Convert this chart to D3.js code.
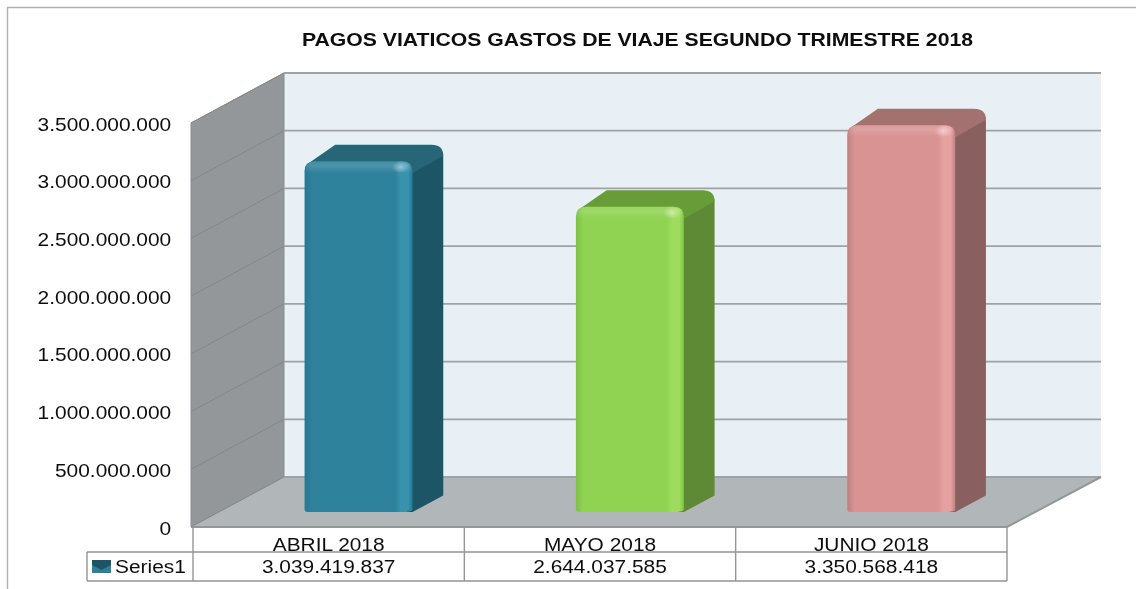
<!DOCTYPE html>
<html>
<head>
<meta charset="utf-8">
<script src="https://cdn.jsdelivr.net/npm/d3@7"></script>
<style>
    html, body { margin: 0; padding: 0; background: #fff; }
    svg { display: block; }
    text { font-family: "Liberation Sans", Arial, sans-serif; fill: #111; }
</style>
</head>
<body>
<div id="chart"></div>
<script>
// 데이터
const titleText = 'PAGOS VIATICOS GASTOS DE VIAJE SEGUNDO TRIMESTRE 2018';
const months = ['ABRIL 2018', 'MAYO 2018', 'JUNIO 2018'];
const pagos = [3039419837, 2644037585, 3350568418];
const yTicks = [0, 500000000, 1000000000, 1500000000, 2000000000, 2500000000, 3000000000, 3500000000];
const seriesName = 'Series1';

// 색상
const frontColors = ['#2f829c', '#90d353', '#d99393'];
const edgeColors = ['#287790', '#7cc146', '#bd8080'];
const glowColors = ['#3792ae', '#9ddc5c', '#e5a0a0'];
const topColors = ['#256676', '#689c38', '#a3716f'];
const sideColors = ['#1d5565', '#5f8a35', '#8a5f5e'];

const W = 1136, H = 589;
const svg = d3.select('#chart').append('svg').attr('width', W).attr('height', H);
const defs = svg.append('defs');

const nf = d3.formatLocale({ decimal: ',', thousands: '.', grouping: [3], currency: ['', ''] }).format(',d');

// 스케일
const x = d3.scaleBand().domain(months).range([193, 1007]);
const y = d3.scaleLinear().domain([0, 3500000000]).range([527, 123]);
const depthX = d3.scaleLinear().domain([0, 1]).range([0, 93]);
const depthY = d3.scaleLinear().domain([0, 1]).range([0, -50]);

const wallLeft = 191, wallBack = wallLeft + depthX(1), backRight = 1101;
const barW = 108, barFront = 0.3, barDepth = 0.33, barNudge = 2;
const fontSize = 19, textStretch = 1.1;

// 블러
const softBlur = defs.append('filter').attr('id', 'soft')
    .attr('x', '-5%').attr('y', '-5%').attr('width', '110%').attr('height', '110%');
softBlur.append('feGaussianBlur').attr('stdDeviation', 0.6);
const textBlur = defs.append('filter').attr('id', 'textSoft')
    .attr('x', '-5%').attr('y', '-20%').attr('width', '110%').attr('height', '140%');
textBlur.append('feGaussianBlur').attr('stdDeviation', 0.3);

// 프레임
svg.append('path').attr('d', `M7.5,${H}V7.5H${W}`)
    .attr('fill', 'none').attr('stroke', '#b0b0b0').attr('stroke-width', 1.4);

// 제목
svg.append('text')
    .attr('x', 302).attr('y', 45.5)
    .attr('font-size', 18.5).attr('font-weight', 'bold')
    .attr('textLength', 671).attr('lengthAdjust', 'spacingAndGlyphs')
    .attr('filter', 'url(#textSoft)')
    .text(titleText);

// 벽, 바닥
svg.append('rect')
    .attr('x', wallBack).attr('y', y(3500000000) + depthY(1))
    .attr('width', backRight - wallBack).attr('height', y(0) - y(3500000000))
    .attr('fill', '#e8eff5');
svg.append('path')
    .attr('d', `M${wallLeft},${y(3500000000)}L${wallBack},${y(3500000000) + depthY(1)}V${y(0) + depthY(1)}L${wallLeft},${y(0)}Z`)
    .attr('fill', '#94979a').attr('stroke', '#8a8d90').attr('stroke-width', 1);
svg.append('path')
    .attr('d', `M${wallLeft},${y(0)}L${wallBack},${y(0) + depthY(1)}H${backRight}L${x.range()[1]},${y(0)}Z`)
    .attr('fill', '#b1b6b9');

// 눈금선
svg.append('g').selectAll('path').data(yTicks).enter().append('path')
    .attr('d', d => `M${wallLeft},${y(d)}L${wallBack},${y(d) + depthY(1)}`)
    .attr('fill', 'none').attr('stroke', '#84878a').attr('stroke-width', 1);
svg.append('g').selectAll('path').data(yTicks).enter().append('path')
    .attr('d', d => `M${wallBack},${y(d) + depthY(1)}H${backRight}`)
    .attr('fill', 'none').attr('stroke', '#a0a3a6').attr('stroke-width', 1.8);
svg.append('path')
    .attr('d', `M${wallLeft},${y(0)}H${x.range()[1]}L${backRight},${y(0) + depthY(1)}`)
    .attr('fill', 'none').attr('stroke', '#94979a').attr('stroke-width', 2);

// y축
const yAxis = svg.append('g').attr('transform', `translate(${wallLeft},1)`)
    .attr('filter', 'url(#textSoft)')
    .call(d3.axisLeft(y).tickValues(yTicks).tickSize(0).tickPadding(18).tickFormat(nf));
yAxis.select('.domain').remove();
yAxis.selectAll('text')
    .attr('font-size', fontSize).attr('font-family', '"Liberation Sans", Arial, sans-serif')
    .attr('fill', '#111')
    .attr('transform', `scale(${textStretch},1)`);

// 막대 그라데이션
months.forEach((m, i) => {
    const g = defs.append('linearGradient').attr('id', 'front' + i);
    [[0, edgeColors[i]], [0.07, frontColors[i]],
     [0.84, frontColors[i]], [0.89, glowColors[i]], [0.96, glowColors[i]], [1, edgeColors[i]]]
        .forEach(s => g.append('stop').attr('offset', s[0]).attr('stop-color', s[1]));
    const r = defs.append('radialGradient').attr('id', 'glow' + i);
    r.append('stop').attr('offset', 0).attr('stop-color', '#fff').attr('stop-opacity', 0.4);
    r.append('stop').attr('offset', 1).attr('stop-color', '#fff').attr('stop-opacity', 0);
});
const band = defs.append('linearGradient').attr('id', 'topBand').attr('x1', 0).attr('x2', 0).attr('y1', 0).attr('y2', 1);
[[0, 0.08], [0.35, 0.14], [1, 0]].forEach(s =>
    band.append('stop').attr('offset', s[0]).attr('stop-color', '#fff').attr('stop-opacity', s[1]));

// 막대
const barData = months.map((m, i) => {
    const left = x(m) + x.bandwidth() / 2 + depthX(barFront) + barNudge - barW / 2;
    const base = y(0) + depthY(barFront);
    const top = y(pagos[i]) + depthY(barFront);
    return { i, left, right: left + barW, base, top, dx: depthX(barDepth), dy: depthY(barDepth) };
});

const bars = svg.append('g').attr('filter', 'url(#soft)')
    .selectAll('g').data(barData).enter().append('g');

// 옆면
bars.append('path')
    .attr('d', d => `M${d.right - 6},${d.top}L${d.right + d.dx - 4},${d.top + d.dy + 4}`
        + `Q${d.right + d.dx},${d.top + d.dy + 6} ${d.right + d.dx},${d.top + d.dy + 12}`
        + `V${d.base + d.dy}L${d.right},${d.base}H${d.right - 6}Z`)
    .attr('fill', d => sideColors[d.i]);
// 윗면
bars.append('path')
    .attr('d', d => `M${d.left + 4},${d.top + 2}L${d.left + d.dx},${d.top + d.dy}`
        + `H${d.right + d.dx - 12}Q${d.right + d.dx},${d.top + d.dy} ${d.right + d.dx},${d.top + d.dy + 11}`
        + `L${d.right},${d.top + 12}H${d.left + 4}Z`)
    .attr('fill', d => topColors[d.i]);
// 앞면
const frontPath = d => `M${d.left},${d.top + 10}Q${d.left},${d.top} ${d.left + 10},${d.top}`
    + `H${d.right - 10}Q${d.right},${d.top} ${d.right},${d.top + 10}`
    + `V${d.base - 2}Q${d.right - 2},${d.base} ${d.right - 12},${d.base}`
    + `H${d.left + 3}Q${d.left},${d.base} ${d.left},${d.base - 3}Z`;
bars.append('path').attr('d', frontPath).attr('fill', d => `url(#front${d.i})`);
bars.append('path')
    .attr('d', d => `M${d.left + 1},${d.top + 12}Q${d.left + 1},${d.top} ${d.left + 10},${d.top}`
        + `H${d.right - 10}Q${d.right - 1},${d.top} ${d.right - 1},${d.top + 12}Z`)
    .attr('fill', 'url(#topBand)');
bars.append('ellipse')
    .attr('cx', d => d.right - 12).attr('cy', d => d.top + 6)
    .attr('rx', 9).attr('ry', 6)
    .attr('fill', d => `url(#glow${d.i})`);

// 데이터 테이블
const tableTop = y(0), rowLine = 552, tableBottom = 581, legendLeft = 87;
const table = svg.append('g').attr('fill', 'none').attr('stroke', '#949494').attr('stroke-width', 1.4);
table.selectAll('line').data([...months.map(m => x(m)), x.range()[1]]).enter().append('line')
    .attr('x1', d => d).attr('x2', d => d)
    .attr('y1', tableTop).attr('y2', tableBottom);
table.append('path').attr('d', `M${legendLeft},${rowLine}H${x.range()[1]}M${legendLeft},${tableBottom}H${x.range()[1]}M${legendLeft},${rowLine}V${tableBottom}`);

const labels = svg.append('g').attr('filter', 'url(#textSoft)');
const tableText = (sel, base) => sel
    .attr('font-size', 18.5).attr('text-anchor', 'middle')
    .attr('transform', (d, i) => `translate(${x(months[i]) + x.bandwidth() / 2},${base}) scale(${textStretch + 0.03},1)`);

labels.append('g').selectAll('text').data(months).enter().append('text')
    .call(tableText, 551)
    .text(d => d);
labels.append('g').selectAll('text').data(pagos).enter().append('text')
    .call(tableText, 573)
    .text(d => nf(d));

// 범례
svg.append('rect').attr('x', 92).attr('y', 560).attr('width', 19).attr('height', 13).attr('fill', '#2f7f98');
svg.append('path').attr('d', 'M92,560H111V565L101.5,570L92,565Z').attr('fill', '#1d5565');
labels.append('text').attr('transform', `translate(115,573) scale(${textStretch + 0.03},1)`)
    .attr('font-size', 18.5).text(seriesName);
</script>
</body>
</html>
